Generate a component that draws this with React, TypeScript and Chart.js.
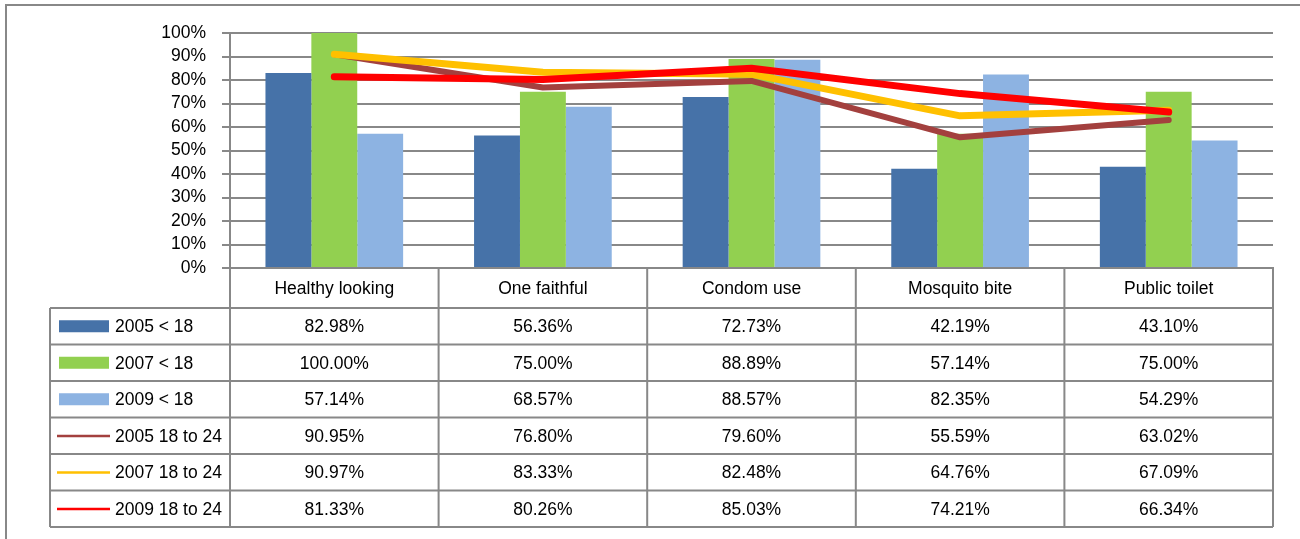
import React, { useEffect, useRef } from "react";
import { Chart, registerables } from "chart.js";

Chart.register(...registerables);

const categories = ["Healthy looking", "One faithful", "Condom use", "Mosquito bite", "Public toilet"];
const under18_2005 = [82.98, 56.36, 72.73, 42.19, 43.1];
const under18_2007 = [100.0, 75.0, 88.89, 57.14, 75.0];
const under18_2009 = [57.14, 68.57, 88.57, 82.35, 54.29];
const age18to24_2005 = [90.95, 76.8, 79.6, 55.59, 63.02];
const age18to24_2007 = [90.97, 83.33, 82.48, 64.76, 67.09];
const age18to24_2009 = [81.33, 80.26, 85.03, 74.21, 66.34];
const seriesLabels = ["2005 < 18", "2007 < 18", "2009 < 18", "2005 18 to 24", "2007 18 to 24", "2009 18 to 24"];
const seriesColors = ["#4672A8", "#92D050", "#8DB3E2", "#A3403E", "#FFC000", "#FF0000"];
const seriesKinds = ["bar", "bar", "bar", "line", "line", "line"];
const seriesValues = [under18_2005, under18_2007, under18_2009, age18to24_2005, age18to24_2007, age18to24_2009];
const yMin = 0;
const yMax = 100;
const yStep = 10;

const FONT = "'Liberation Sans', Arial, sans-serif";
const FSIZE = 17.5;
const GRID = "#888888";

const tablePlugin = {
  id: "dataTable",
  beforeDraw(chart: any) {
    const ctx = chart.ctx;
    ctx.save();
    ctx.fillStyle = "#ffffff";
    ctx.fillRect(0, 0, chart.width, chart.height);
    ctx.strokeStyle = GRID;
    ctx.lineWidth = 2;
    ctx.beginPath();
    ctx.moveTo(6, chart.height);
    ctx.lineTo(6, 5);
    ctx.lineTo(chart.width, 5);
    ctx.stroke();
    ctx.restore();
  },
  afterDraw(chart: any) {
    const ctx = chart.ctx;
    const area = chart.chartArea;
    const xs = chart.scales.x;
    const n = categories.length;
    const bounds: number[] = [area.left];
    for (let i = 0; i < n - 1; i++) {
      bounds.push((xs.getPixelForValue(i) + xs.getPixelForValue(i + 1)) / 2);
    }
    bounds.push(area.right);
    const top = area.bottom;
    const headerH = 40;
    const rowH = 36.5;
    const legendLeft = 50;
    const rows = seriesLabels.length;
    const bottom = top + headerH + rowH * rows;

    ctx.save();
    ctx.strokeStyle = GRID;
    ctx.lineWidth = 2;
    ctx.beginPath();
    ctx.moveTo(area.left, top);
    ctx.lineTo(area.right, top);
    for (let r = 0; r <= rows; r++) {
      const y = top + headerH + rowH * r;
      ctx.moveTo(legendLeft, y);
      ctx.lineTo(area.right, y);
    }
    for (let i = 0; i < bounds.length; i++) {
      ctx.moveTo(bounds[i], top);
      ctx.lineTo(bounds[i], bottom);
    }
    ctx.moveTo(legendLeft, top + headerH);
    ctx.lineTo(legendLeft, bottom);
    ctx.stroke();

    ctx.fillStyle = "#000000";
    ctx.font = `${FSIZE}px ${FONT}`;
    ctx.textBaseline = "middle";
    ctx.textAlign = "center";
    for (let i = 0; i < n; i++) {
      const cx = (bounds[i] + bounds[i + 1]) / 2;
      ctx.fillText(categories[i], cx, top + headerH / 2 + 1);
    }
    for (let r = 0; r < rows; r++) {
      const cy = top + headerH + rowH * r + rowH / 2 + 1;
      for (let i = 0; i < n; i++) {
        const cx = (bounds[i] + bounds[i + 1]) / 2;
        ctx.fillText(seriesValues[r][i].toFixed(2) + "%", cx, cy);
      }
      ctx.fillStyle = seriesColors[r];
      if (seriesKinds[r] === "bar") {
        ctx.fillRect(59, cy - 7, 50, 12);
      } else {
        ctx.fillRect(57, cy - 2, 53, 2.5);
      }
      ctx.fillStyle = "#000000";
      ctx.textAlign = "left";
      ctx.fillText(seriesLabels[r], 115, cy);
      ctx.textAlign = "center";
    }
    ctx.restore();
  },
};

export default function App() {
  const canvasRef = useRef<HTMLCanvasElement | null>(null);

  useEffect(() => {
    document.body.style.margin = "0";
    const canvas = canvasRef.current;
    if (!canvas) return;
    const datasets: any[] = seriesLabels.map((label, idx) => {
      if (seriesKinds[idx] === "bar") {
        return {
          type: "bar",
          label,
          data: seriesValues[idx],
          backgroundColor: seriesColors[idx],
          borderWidth: 0,
          categoryPercentage: 0.66,
          barPercentage: 1.0,
          order: 10,
        };
      }
      return {
        type: "line",
        label,
        data: seriesValues[idx],
        borderColor: seriesColors[idx],
        backgroundColor: seriesColors[idx],
        borderWidth: idx === 3 ? 6 : 7,
        borderCapStyle: "round",
        borderJoinStyle: "round",
        pointRadius: 0,
        tension: 0,
        fill: false,
        order: 6 - idx,
      };
    });

    const chart = new Chart(canvas, {
      type: "bar",
      data: { labels: categories, datasets },
      plugins: [tablePlugin],
      options: {
        responsive: false,
        animation: false,
        devicePixelRatio: 1,
        layout: { padding: { left: 0, top: 33, right: 27, bottom: 271 } },
        plugins: { legend: { display: false }, tooltip: { enabled: false }, title: { display: false } },
        scales: {
          x: {
            grid: { display: false },
            border: { display: true, color: GRID, width: 2 },
            ticks: { display: false },
            afterFit(scale: any) {
              scale.height = 0;
            },
          },
          y: {
            min: yMin,
            max: yMax,
            grid: { color: GRID, lineWidth: 2, tickLength: 8, drawTicks: true },
            border: { display: true, color: GRID, width: 2 },
            ticks: {
              stepSize: yStep,
              autoSkip: false,
              padding: 16,
              color: "#000000",
              font: { family: FONT, size: FSIZE },
              callback: (v: any) => v + "%",
            },
            afterFit(scale: any) {
              scale.width = 230;
            },
          },
        },
      },
    } as any);
    return () => chart.destroy();
  }, []);

  return (
    <div style={{ width: 1300, height: 539 }}>
      <canvas ref={canvasRef} width={1300} height={539} style={{ display: "block" }} />
    </div>
  );
}
